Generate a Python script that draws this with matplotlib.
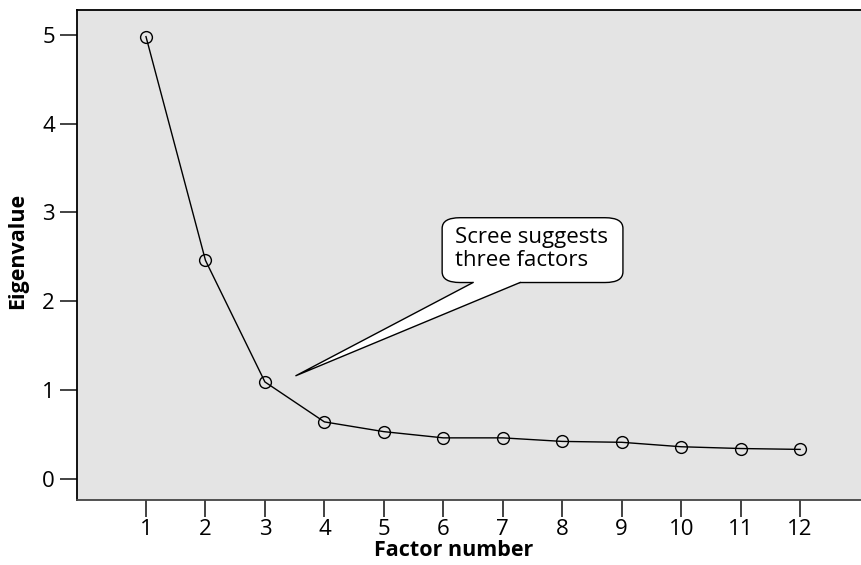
import matplotlib
matplotlib.use("Agg")
import matplotlib.pyplot as plt
from matplotlib.patches import FancyBboxPatch, Polygon
from matplotlib.lines import Line2D

plt.rcParams['font.family'] = ['Open Sans', 'DejaVu Sans']

factors = [1, 2, 3, 4, 5, 6, 7, 8, 9, 10, 11, 12]
eigenvalues = [4.98, 2.46, 1.09, 0.64, 0.53, 0.46, 0.46, 0.42, 0.41, 0.36, 0.34, 0.33]
y_ticks = [0, 1, 2, 3, 4, 5]
note_text = "Scree suggests\nthree factors"

fig = plt.figure(figsize=(8.62, 5.65), dpi=100)
ax = fig.add_axes([77 / 862, 65 / 565, 1 - 77 / 862, 490 / 565])
ax.set_facecolor('#e4e4e4')

ax.plot(factors, eigenvalues, color='black', lw=1.0, marker='o', ms=8.5,
        mfc='none', mec='black', mew=1.0, zorder=3)

ax.set_xlim(-0.16, 13.04)
ax.set_ylim(-0.24, 5.28)
ax.set_xticks(factors)
ax.set_yticks(y_ticks)
ax.tick_params(axis='both', length=12, width=1.2, labelsize=16, color='#222222')
ax.tick_params(axis='x', pad=2)
ax.tick_params(axis='y', pad=4)

for side in ('left', 'top'):
    ax.spines[side].set_linewidth(1.3)
    ax.spines[side].set_color('black')
ax.spines['bottom'].set_linewidth(1.3)
ax.spines['bottom'].set_color('#444444')
ax.spines['right'].set_visible(False)

ax.set_xlabel('Factor number', fontsize=15.5, fontweight='bold')
ax.set_ylabel('Eigenvalue', fontsize=15.5, fontweight='bold')
ax.xaxis.label.set_va('center')
ax.yaxis.label.set_va('center')
ax.yaxis.label.set_ha('center')
ax.xaxis.set_label_coords(0.48, -0.103)
ax.yaxis.set_label_coords(-0.076, 0.509)

# Speech-bubble callout pointing at the elbow
box = FancyBboxPatch((5.98, 2.21), 3.04, 0.73,
                     boxstyle="round,pad=0,rounding_size=0.3",
                     mutation_aspect=1 / 2.5,
                     fc='white', ec='black', lw=1.0, zorder=4)
ax.add_patch(box)
tip = (3.52, 1.16)
base_l = (6.50, 2.21)
base_r = (7.29, 2.21)
wedge = Polygon([base_l, tip, base_r, (base_r[0], base_r[1] + 0.02), (base_l[0], base_l[1] + 0.02)],
                closed=True, fc='white', ec='none', zorder=5)
ax.add_patch(wedge)
ax.add_line(Line2D([base_l[0], tip[0], base_r[0]], [base_l[1], tip[1], base_r[1]],
                   color='black', lw=1.0, zorder=6))
ax.text(6.20, 2.585, note_text, fontsize=16, ha='left', va='center',
        linespacing=1.15, zorder=7)

fig.savefig('out.png', dpi=100)
